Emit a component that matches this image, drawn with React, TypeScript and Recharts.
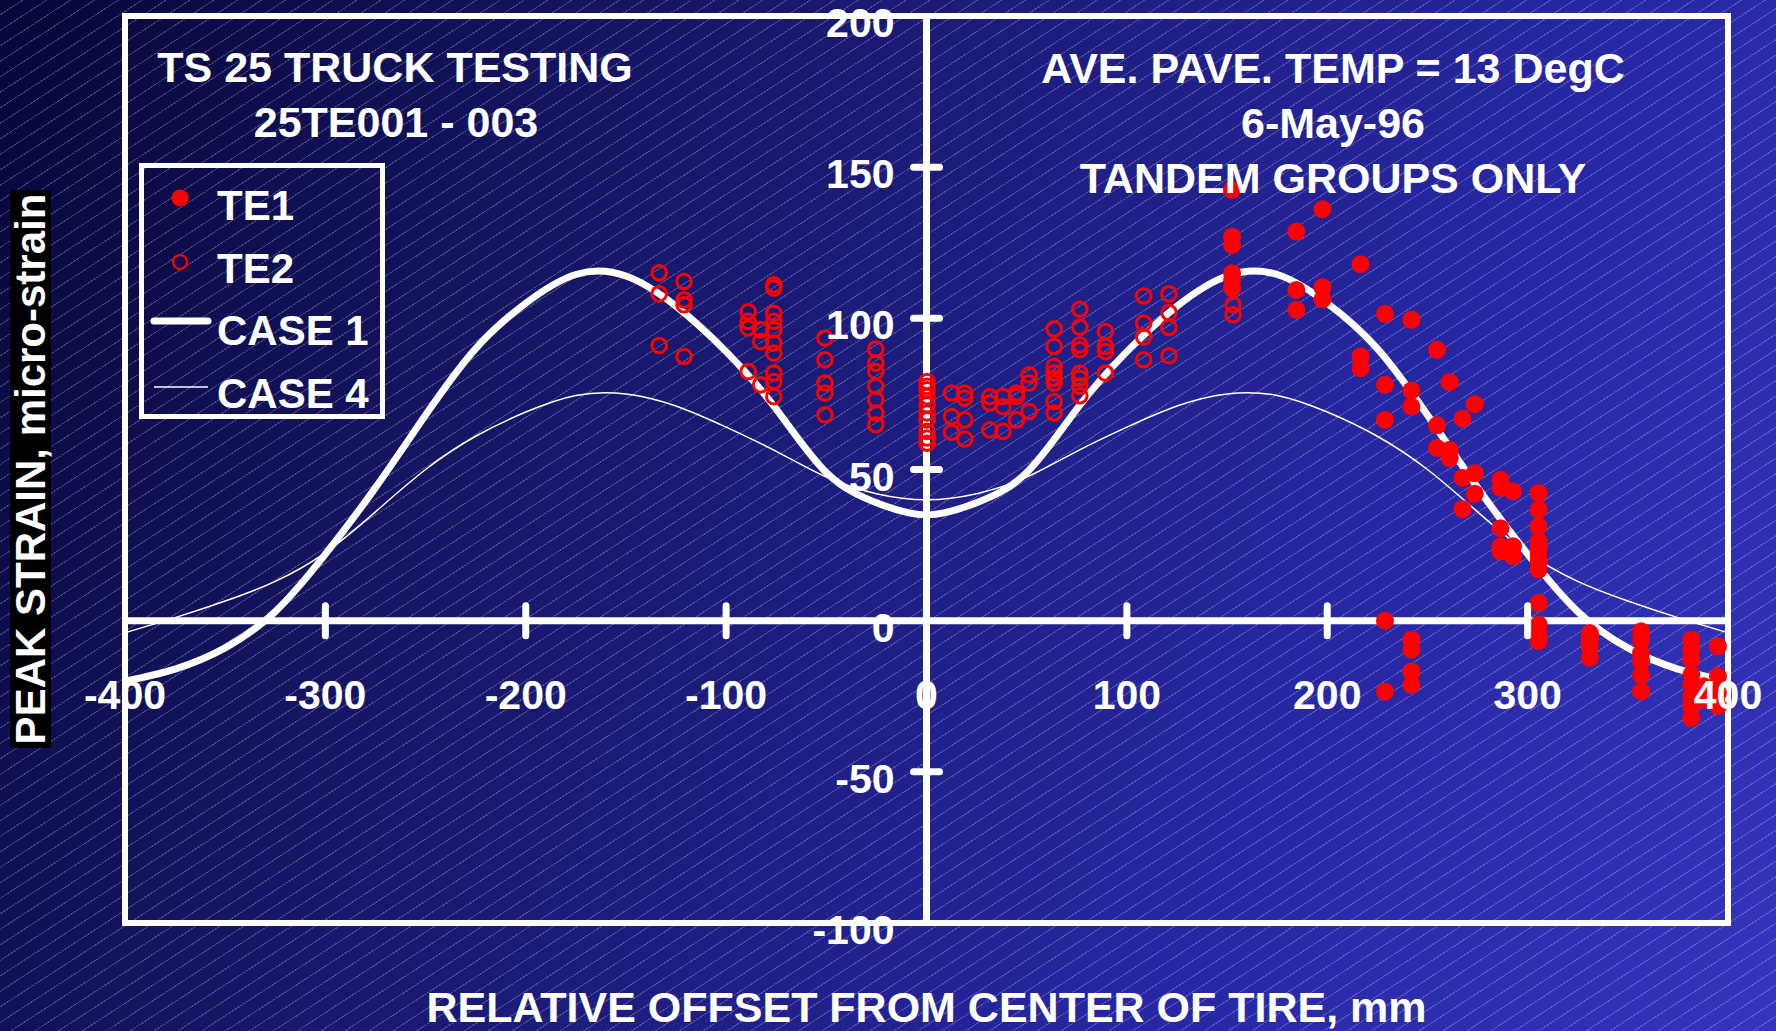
import React from 'react';
import { ComposedChart, Line, Scatter, XAxis, YAxis, ReferenceLine, Legend } from 'recharts';

const W = 1776;
const H = 1031;
const MARGIN = { top: 16, right: 48, bottom: 107, left: 124 };
const AXIS_SIZE = 1;
const PLOT_W = W - MARGIN.left - MARGIN.right - AXIS_SIZE;
const PLOT_H = H - MARGIN.top - MARGIN.bottom - AXIS_SIZE;
const FONT = '"Liberation Sans", Arial, Helvetica, sans-serif';

const X_DOMAIN = [-400, 400];
const Y_DOMAIN = [-100, 200];
const X_TICKS = [-400, -300, -200, -100, 0, 100, 200, 300, 400];
const Y_TICKS = [-100, -50, 0, 50, 100, 150, 200];

// model curves
const case1Offsets = [-400, -375, -350, -325, -300, -275, -250, -225, -200, -175, -150, -125, -100, -75, -50, -25, 0, 25, 50, 75, 100, 125, 150, 175, 200, 225, 250, 275, 300, 325, 350, 375, 400];
const case1Strain = [-20, -16, -9, 3, 22, 44, 68, 90, 105, 114.5, 114, 104, 89, 70, 49, 39, 35, 39, 49, 70, 89, 104, 114, 114.5, 105, 90, 68, 44, 22, 3, -9, -16, -20];

const case4Offsets = [-400, -375, -350, -325, -300, -275, -250, -225, -200, -175, -150, -125, -100, -75, -50, -25, 0, 25, 50, 75, 100, 125, 150, 175, 200, 225, 250, 275, 300, 325, 350, 375, 400];
const case4Strain = [-4, 1, 6.5, 13, 22.5, 36, 50, 61, 69, 74.5, 75, 71, 64, 56, 47.5, 42, 40, 42, 47.5, 56, 64, 71, 75, 74.5, 69, 61, 50, 36, 22.5, 13, 6.5, 1, -4];

// measured strains, grouped by offset column
const te1Offsets = [152.5, 184.6, 197.6, 216.6, 228.8, 242, 254.8, 261.1, 267.5, 273.6, 286.5, 292.7, 305.5, 331, 356.6, 381.7, 387.9, 395];
const te1Strains = [
  [142.5, 127, 124.3, 114.9, 112.7, 110],
  [128.7, 109.4, 102.8],
  [136.1, 110.3, 106.3],
  [117.9, 87.4, 83.5],
  [101.5, 78, 66.4, 0, -23.5],
  [99.5, 76.1, 70.8, -6.3, -9.6, -16.8, -21.2],
  [89.6, 64.6, 57.1],
  [78.9, 56.5, 53.8],
  [66.8, 47.2, 36.9],
  [71.6, 48.8, 42],
  [46.6, 43.9, 30.6, 24.6, 22.9],
  [42.8, 24.6, 21.3],
  [42.2, 36.7, 31.2, 26.2, 24, 21.8, 19.6, 16.9, 5.9, -1.3, -4.1, -6.8],
  [-4.1, -6.3, -8.5, -12.3],
  [-3.5, -6.3, -10.7, -13.4, -17.9, -23.4],
  [-6.3, -9.6, -12.9, -17.9, -21.2, -25, -28.3, -32.2],
  [-21.7, -26.1],
  [-8.5, -18.4, -23.9, -28.3],
];

const te2Offsets = [-133.4, -121, -89, -82.8, -76.2, -50.7, -25.3, 0.3, 12.5, 19.1, 31.6, 38.2, 44.9, 51.2, 63.7, 76.5, 89.3, 108.4, 121, 153];
const te2Strains = [
  [115.1, 108.1, 91],
  [112.2, 106.1, 104.5, 87.4],
  [102.2, 99, 96.8, 82.4],
  [96.2, 92.3, 78],
  [111.1, 110, 101.7, 99, 96.2, 91.8, 88.5, 81.9, 79.1, 74.1],
  [93.5, 86.3, 78.6, 75.3, 68.1],
  [89.8, 85.2, 82.4, 77.5, 73.1, 68.7, 64.8],
  [79.1, 77.5, 76.4, 74.1, 71.4, 68.7, 66.4, 62.6, 60.4, 58.7],
  [75.3, 67.5, 62.3],
  [75.3, 73.6, 66.4, 60.1],
  [74.1, 72, 63.1],
  [74.1, 70.8, 62.6],
  [75.3, 74.1, 66.4],
  [81.3, 78.6, 69.2],
  [96.5, 90.7, 84.1, 81.9, 80.2, 78.6, 72.5, 68.7],
  [103, 97.1, 91.2, 89.6, 81.9, 80.2, 77.5, 74.4],
  [95.6, 90.7, 89, 81.9],
  [107.4, 98.4, 93.8, 86.3],
  [108.1, 101.9, 97, 87.6],
  [104.5, 101.2],
];

const case1 = case1Offsets.map((x, i) => ({ x, y: case1Strain[i] }));
const case4 = case4Offsets.map((x, i) => ({ x, y: case4Strain[i] }));
const te1 = te1Offsets.flatMap((x, i) => te1Strains[i].map((y) => ({ x, y })));
const te2 = te2Offsets.flatMap((x, i) => te2Strains[i].map((y) => ({ x, y })));

// pixel position of the zero lines, where the axes cross
const plotLeft = MARGIN.left + AXIS_SIZE;
const zeroY = MARGIN.top + (PLOT_H * Y_DOMAIN[1]) / (Y_DOMAIN[1] - Y_DOMAIN[0]);
const zeroX = plotLeft + (PLOT_W * -X_DOMAIN[0]) / (X_DOMAIN[1] - X_DOMAIN[0]);

const labelStyle = { fill: '#fff', fontFamily: FONT, fontWeight: 'bold' as const };

function renderXTick(props: any) {
  const { x, payload } = props;
  const v = payload.value;
  const edge = v === X_DOMAIN[0] || v === X_DOMAIN[1] || v === 0;
  return (
    <g key={`xt-${v}`}>
      {!edge && <line x1={x} x2={x} y1={zeroY - 15} y2={zeroY + 15} stroke="#fff" strokeWidth={7} strokeLinecap="round" />}
      <text x={x} y={zeroY + 88} textAnchor="middle" fontSize={41} {...labelStyle}>{v}</text>
    </g>
  );
}

function renderYTick(props: any) {
  const { y, payload } = props;
  const v = payload.value;
  const edge = v === Y_DOMAIN[0] || v === Y_DOMAIN[1] || v === 0;
  return (
    <g key={`yt-${v}`}>
      {!edge && <line x1={zeroX - 13} x2={zeroX + 13} y1={y} y2={y} stroke="#fff" strokeWidth={7} strokeLinecap="round" />}
      <text x={zeroX - 32} y={y + 21} textAnchor="end" fontSize={41} {...labelStyle}>{v}</text>
    </g>
  );
}

function LegendBox() {
  return (
    <svg width={246} height={256}>
      <rect x={2.5} y={2.5} width={241} height={251} fill="none" stroke="#fff" strokeWidth={5} />
      <circle cx={41} cy={35} r={8.5} fill="#ff0000" />
      <text x={78} y={57} fontSize={42} {...labelStyle}>TE1</text>
      <circle cx={41} cy={99} r={7} fill="none" stroke="#ff0000" strokeWidth={2.2} />
      <text x={78} y={120} fontSize={42} {...labelStyle}>TE2</text>
      <line x1={15} x2={69} y1={158} y2={158} stroke="#fff" strokeWidth={7} strokeLinecap="round" />
      <text x={78} y={182} fontSize={42} {...labelStyle}>CASE 1</text>
      <line x1={15} x2={69} y1={224} y2={224} stroke="#fff" strokeWidth={1.5} />
      <text x={78} y={245} fontSize={42} {...labelStyle}>CASE 4</text>
    </svg>
  );
}

const filledDot = (p: any) => <circle cx={p.cx} cy={p.cy} r={9} fill="#ff0000" />;
const openDot = (p: any) => <circle cx={p.cx} cy={p.cy} r={7.3} fill="none" stroke="#ff0000" strokeWidth={3} />;

export default function App() {
  return (
    <div
      style={{
        position: 'absolute',
        left: 0,
        top: 0,
        width: W,
        height: H,
        overflow: 'hidden',
        background:
          'repeating-linear-gradient(147deg, rgba(255,255,255,0) 0px, rgba(255,255,255,0) 12px, rgba(255,255,255,0.22) 12px, rgba(255,255,255,0.22) 13px), linear-gradient(115deg, #07073a 0%, #1a1a74 40%, #2727a4 72%, #3434bd 100%)',
      }}
    >
      <ComposedChart width={W} height={H} margin={MARGIN}>
        <XAxis
          type="number"
          dataKey="x"
          domain={X_DOMAIN}
          ticks={X_TICKS}
          interval={0}
          height={AXIS_SIZE}
          axisLine={false}
          tickLine={false}
          tick={renderXTick}
        />
        <YAxis
          type="number"
          dataKey="y"
          domain={Y_DOMAIN}
          ticks={Y_TICKS}
          interval={0}
          width={AXIS_SIZE}
          axisLine={false}
          tickLine={false}
          tick={renderYTick}
        />
        <ReferenceLine x={X_DOMAIN[0]} stroke="#fff" strokeWidth={6} strokeLinecap="square" />
        <ReferenceLine x={X_DOMAIN[1]} stroke="#fff" strokeWidth={6} strokeLinecap="square" />
        <ReferenceLine y={Y_DOMAIN[0]} stroke="#fff" strokeWidth={6} strokeLinecap="square" />
        <ReferenceLine y={Y_DOMAIN[1]} stroke="#fff" strokeWidth={6} strokeLinecap="square" />
        <ReferenceLine x={0} stroke="#fff" strokeWidth={7} />
        <ReferenceLine y={0} stroke="#fff" strokeWidth={7} />
        <Legend
          layout="horizontal"
          verticalAlign="middle"
          align="center"
          wrapperStyle={{ position: 'absolute', left: 139, top: 163, width: 246, height: 256 }}
          content={() => <LegendBox />}
        />
        <Line data={case4} dataKey="y" type="natural" stroke="#fff" strokeWidth={1.5} dot={false} isAnimationActive={false} />
        <Line data={case1} dataKey="y" type="natural" stroke="#fff" strokeWidth={7} dot={false} isAnimationActive={false} />
        <Scatter data={te2} dataKey="y" shape={openDot} isAnimationActive={false} />
        <Scatter data={te1} dataKey="y" shape={filledDot} isAnimationActive={false} />
      </ComposedChart>

      <svg width={W} height={H} style={{ position: 'absolute', left: 0, top: 0, pointerEvents: 'none' }}>
        <g textAnchor="middle" fontSize={43} {...labelStyle}>
          <text x={395} y={82}>TS 25 TRUCK TESTING</text>
          <text x={396} y={137}>25TE001 - 003</text>
          <text x={1333} y={83}>AVE. PAVE. TEMP = 13 DegC</text>
          <text x={1333} y={138}>6-May-96</text>
          <text x={1333} y={193}>TANDEM GROUPS ONLY</text>
          <text x={zeroX} y={1022}>RELATIVE OFFSET FROM CENTER OF TIRE, mm</text>
        </g>
        <rect x={10} y={190} width={41} height={558} fill="#000" />
        <text transform="translate(45,469) rotate(-90)" textAnchor="middle" fontSize={42} {...labelStyle}>
          PEAK STRAIN, micro-strain
        </text>
      </svg>
    </div>
  );
}
